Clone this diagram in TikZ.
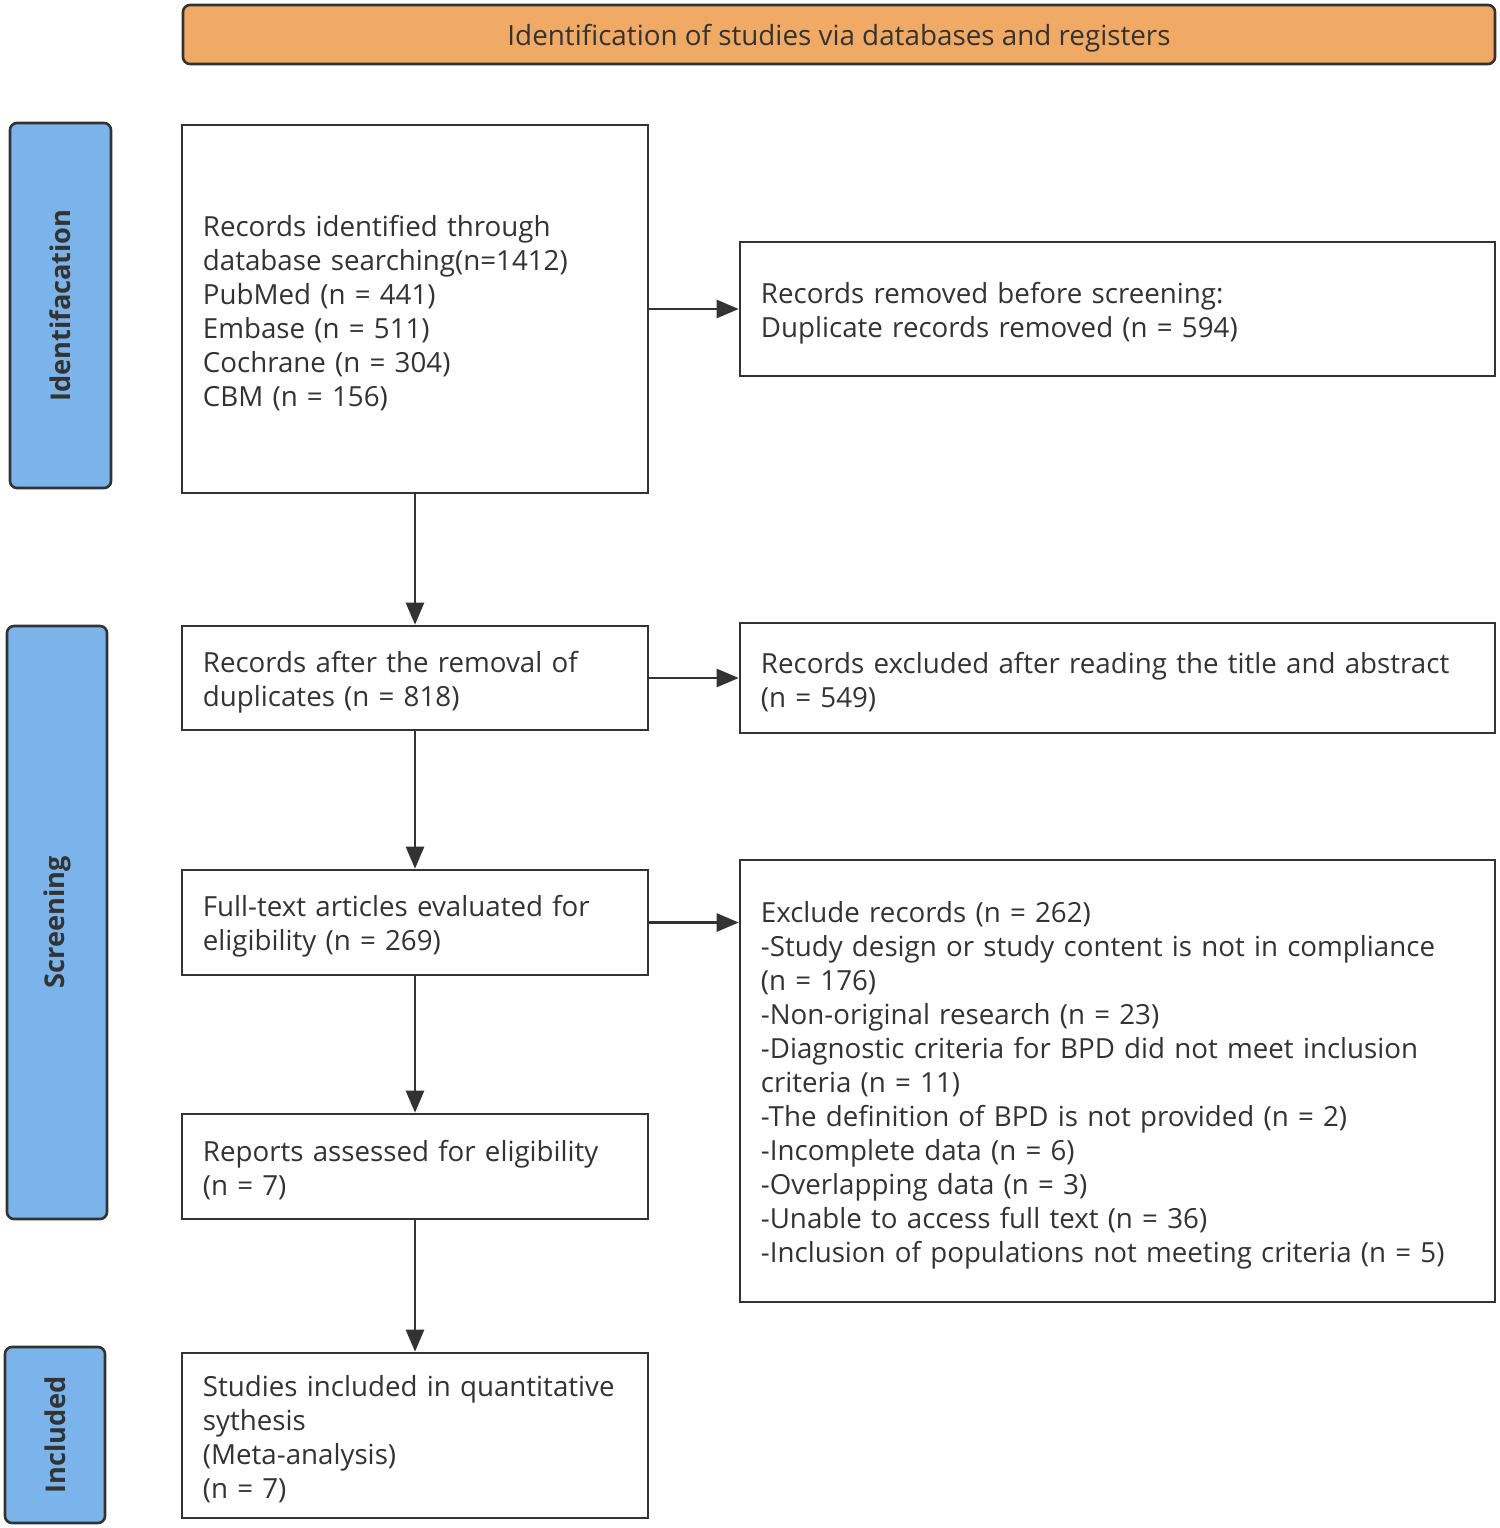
\documentclass[tikz,border=0pt]{standalone}
\usepackage{fontspec}
\setmainfont{Open Sans}
\usetikzlibrary{arrows.meta}
\definecolor{hdr}{HTML}{F0AA66}
\definecolor{side}{HTML}{7AB4EA}
\definecolor{ln}{HTML}{333333}
\begin{document}
\begin{tikzpicture}[x=1pt,y=-1pt,
  box/.style={draw=ln,line width=2.6pt,rectangle,inner sep=0pt},
  txt/.style={inner sep=0pt,anchor=west,align=left,font=\fontsize{27.7}{34}\selectfont,text=ln},
  sidebar/.style={draw=ln,line width=2.6pt,fill=side,rounded corners=7pt,inner sep=0pt},
  sidetext/.style={rotate=90,font=\bfseries\fontsize{27.2}{30}\selectfont,text=ln},
  arr/.style={draw=ln,line width=2.6pt,-{Triangle[length=22pt,width=18pt]}}]
\useasboundingbox (0,0) rectangle (1499,1528);
\fill[white] (0,0) rectangle (1499,1528);
% header
\node[draw=ln,line width=2.6pt,fill=hdr,rounded corners=7pt,minimum width=1312pt,minimum height=59pt] (hdr) at (839,34.5) {};
\node[font=\fontsize{27.8}{30}\selectfont,text=ln] (hdrt) at ([yshift=-4pt]hdr.center) {Identification of studies via databases and registers};
% side bars
\node[sidebar,minimum width=101pt,minimum height=365pt] (s1) at (60.5,305.5) {};
\node[sidetext] (s1t) at (s1.center) {Identifacation};
\node[sidebar,minimum width=100pt,minimum height=593pt] (s2) at (57,922.5) {};
\node[sidetext] (s2t) at (s2.center) {Screening};
\node[sidebar,minimum width=100pt,minimum height=176pt] (s3) at (55,1435) {};
\node[sidetext] (s3t) at (s3.center) {Included};
% left column
\node[box,minimum width=466pt,minimum height=368pt] (b1) at (415,309) {};
\node[txt,text width=422pt] (b1t) at ([shift={(22,4)}]b1.west)
  {Records identified through\\database searching(n=1412)\\PubMed (n = 441)\\Embase (n = 511)\\Cochrane (n = 304)\\CBM (n = 156)};
\node[box,minimum width=466pt,minimum height=104pt] (b2) at (415,678) {};
\node[txt,text width=422pt] (b2t) at ([shift={(22,4)}]b2.west)
  {Records after the removal of\\duplicates (n = 818)};
\node[box,minimum width=466pt,minimum height=105pt] (b3) at (415,922.5) {};
\node[txt,text width=422pt] (b3t) at ([shift={(22,4)}]b3.west)
  {Full-text articles evaluated for\\eligibility (n = 269)};
\node[box,minimum width=466pt,minimum height=105pt] (b4) at (415,1166.5) {};
\node[txt,text width=422pt] (b4t) at ([shift={(22,4)}]b4.west)
  {Reports assessed for eligibility\\(n = 7)};
\node[box,minimum width=466pt,minimum height=165pt] (b5) at (415,1435.5) {};
\node[txt,text width=422pt] (b5t) at ([shift={(22,4)}]b5.west)
  {Studies included in quantitative\\sythesis\\(Meta-analysis)\\(n = 7)};
% right column
\node[box,minimum width=755pt,minimum height=134pt] (r1) at (1117.5,309) {};
\node[txt,text width=711pt] (r1t) at ([shift={(22,4)}]r1.west)
  {Records removed before screening:\\Duplicate records removed (n = 594)};
\node[box,minimum width=755pt,minimum height=110pt] (r2) at (1117.5,678) {};
\node[txt,text width=711pt] (r2t) at ([shift={(22,4)}]r2.west)
  {Records excluded after reading the title and abstract\\(n = 549)};
\node[box,minimum width=755pt,minimum height=442pt] (r3) at (1117.5,1081) {};
\node[txt,text width=711pt] (r3t) at ([shift={(22,4)}]r3.west)
  {Exclude records (n = 262)\\-Study design or study content is not in compliance\\(n = 176)\\-Non-original research (n = 23)\\-Diagnostic criteria for BPD did not meet inclusion\\criteria (n = 11)\\-The definition of BPD is not provided (n = 2)\\-Incomplete data (n = 6)\\-Overlapping data (n = 3)\\-Unable to access full text (n = 36)\\-Inclusion of populations not meeting criteria (n = 5)};
% arrows
\draw[arr] (b1) -- (b2);
\draw[arr] (b2) -- (b3);
\draw[arr] (b3) -- (b4);
\draw[arr] (b4) -- (b5);
\draw[arr] (b1.east) -- (r1.west);
\draw[arr] (b2.east) -- (r2.west);
\draw[arr] (b3.east) -- (r3.west |- b3.east);
\end{tikzpicture}
\end{document}
